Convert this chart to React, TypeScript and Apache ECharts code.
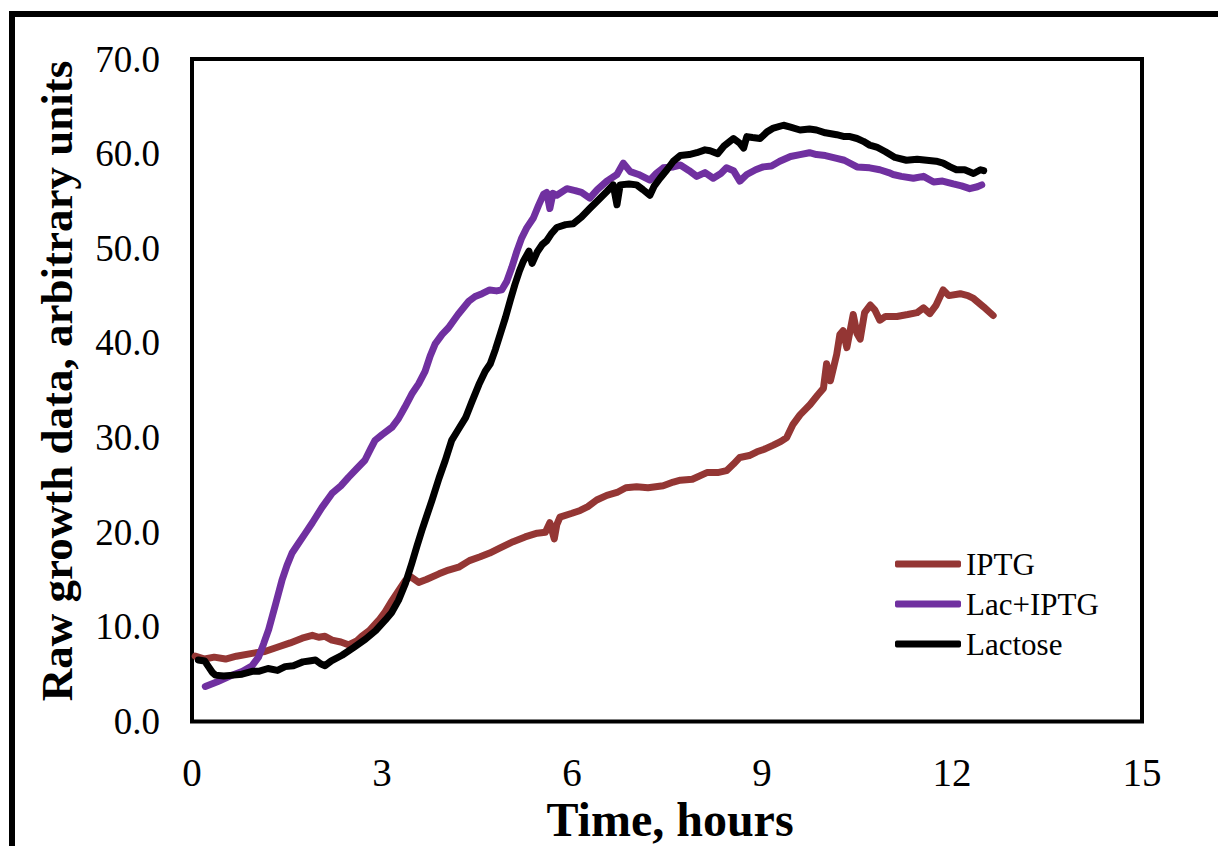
import React, { useEffect, useRef } from "react";
import * as echarts from "echarts";

const seriesNames = ["IPTG", "Lac+IPTG", "Lactose"];
const xTicks = [0, 3, 6, 9, 12, 15];
const yTicks = [0, 10, 20, 30, 40, 50, 60, 70];

const iptg: [number, number][] = [
  [0.05, 6.9], [0.2, 6.6], [0.35, 6.8], [0.53, 6.6], [0.7, 6.9], [0.95, 7.2], [1.15, 7.4],
  [1.37, 7.9], [1.55, 8.3], [1.74, 8.8], [1.9, 9.1], [2.0, 8.9], [2.1, 9.0], [2.21, 8.6],
  [2.35, 8.4], [2.47, 8.1], [2.6, 8.5], [2.68, 9.0], [2.8, 9.6], [2.95, 10.7], [3.05, 11.6],
  [3.16, 12.8], [3.27, 13.9], [3.37, 14.9], [3.45, 15.3], [3.58, 14.7], [3.7, 15.0], [3.9, 15.6],
  [4.05, 16.0], [4.21, 16.3], [4.38, 17.0], [4.55, 17.4], [4.7, 17.8], [4.85, 18.3], [5.07, 19.0],
  [5.26, 19.5], [5.45, 19.9], [5.58, 20.0], [5.65, 21.0], [5.72, 19.3], [5.76, 20.8], [5.81, 21.6],
  [6.0, 22.0], [6.13, 22.3], [6.25, 22.7], [6.39, 23.4], [6.55, 23.9], [6.71, 24.2], [6.85, 24.7],
  [7.02, 24.8], [7.2, 24.7], [7.44, 24.9], [7.6, 25.3], [7.71, 25.5], [7.9, 25.6], [8.13, 26.3],
  [8.3, 26.3], [8.44, 26.5], [8.55, 27.2], [8.65, 27.9], [8.8, 28.1], [8.92, 28.5], [9.05, 28.8],
  [9.18, 29.2], [9.3, 29.6], [9.39, 30.0], [9.49, 31.4], [9.6, 32.4], [9.76, 33.5], [9.88, 34.5],
  [9.97, 35.2], [10.02, 37.8], [10.08, 36.0], [10.18, 38.8], [10.23, 40.9], [10.28, 41.3],
  [10.34, 39.5], [10.44, 43.0], [10.5, 41.0], [10.55, 40.4], [10.62, 43.2], [10.71, 44.0],
  [10.78, 43.5], [10.86, 42.4], [10.95, 42.8], [11.13, 42.8], [11.3, 43.0], [11.45, 43.2],
  [11.55, 43.7], [11.65, 43.1], [11.75, 44.0], [11.86, 45.6], [11.95, 45.0], [12.13, 45.2],
  [12.25, 45.0], [12.34, 44.7], [12.5, 43.8], [12.65, 42.9],
];

const lacIptg: [number, number][] = [
  [0.21, 3.7], [0.4, 4.2], [0.6, 4.8], [0.8, 5.3], [0.95, 5.9], [1.05, 6.8], [1.13, 8.2],
  [1.21, 9.7], [1.32, 12.4], [1.42, 14.9], [1.5, 16.5], [1.58, 17.8], [1.68, 18.8], [1.78, 19.8],
  [1.9, 21.0], [2.05, 22.6], [2.21, 24.1], [2.35, 24.9], [2.47, 25.8], [2.6, 26.7], [2.73, 27.6],
  [2.82, 28.8], [2.89, 29.7], [3.0, 30.3], [3.16, 31.1], [3.26, 32.0], [3.36, 33.2], [3.47, 34.6],
  [3.58, 35.7], [3.68, 37.0], [3.76, 38.6], [3.84, 39.9], [3.95, 40.9], [4.05, 41.6], [4.2, 43.0],
  [4.37, 44.4], [4.47, 44.9], [4.58, 45.2], [4.7, 45.6], [4.81, 45.5], [4.89, 45.6], [4.97, 46.5],
  [5.05, 48.0], [5.13, 49.7], [5.2, 51.0], [5.28, 52.1], [5.39, 53.2], [5.47, 54.5], [5.55, 55.7],
  [5.6, 55.9], [5.65, 54.2], [5.7, 55.8], [5.76, 55.6], [5.92, 56.3], [6.05, 56.1], [6.15, 55.9],
  [6.28, 55.3], [6.4, 56.2], [6.55, 57.1], [6.71, 57.8], [6.81, 59.0], [6.92, 58.1], [7.05, 57.8],
  [7.23, 57.2], [7.33, 57.9], [7.44, 58.5], [7.6, 58.6], [7.71, 58.8], [7.85, 58.2], [7.97, 57.6],
  [8.1, 58.0], [8.23, 57.4], [8.35, 57.9], [8.44, 58.5], [8.55, 58.2], [8.65, 57.1], [8.76, 57.8],
  [8.9, 58.3], [9.02, 58.6], [9.15, 58.7], [9.28, 59.2], [9.45, 59.7], [9.6, 59.9], [9.75, 60.1],
  [9.86, 59.9], [10.0, 59.8], [10.18, 59.5], [10.3, 59.3], [10.5, 58.6], [10.7, 58.5],
  [10.86, 58.3], [11.0, 58.0], [11.07, 57.8], [11.2, 57.6], [11.39, 57.4], [11.55, 57.6],
  [11.71, 57.0], [11.85, 57.1], [12.02, 56.8], [12.15, 56.6], [12.28, 56.3], [12.4, 56.5],
  [12.47, 56.7],
];

const lactose: [number, number][] = [
  [0.1, 6.5], [0.2, 6.4], [0.26, 5.8], [0.32, 5.2], [0.37, 4.9], [0.5, 4.8], [0.65, 4.9],
  [0.79, 5.0], [0.95, 5.3], [1.05, 5.3], [1.2, 5.6], [1.35, 5.4], [1.47, 5.8], [1.6, 5.9],
  [1.75, 6.3], [1.85, 6.4], [1.95, 6.5], [2.03, 6.1], [2.1, 5.9], [2.2, 6.4], [2.37, 7.0],
  [2.55, 7.8], [2.74, 8.7], [2.9, 9.6], [3.05, 10.7], [3.15, 11.5], [3.26, 12.8], [3.37, 14.6],
  [3.47, 16.7], [3.55, 18.5], [3.63, 20.2], [3.71, 21.8], [3.79, 23.4], [3.9, 25.7], [4.0, 27.6],
  [4.1, 29.7], [4.2, 30.8], [4.32, 32.1], [4.42, 33.8], [4.53, 35.6], [4.63, 37.0], [4.71, 37.8],
  [4.79, 39.3], [4.87, 41.0], [4.95, 42.7], [5.03, 44.6], [5.1, 46.2], [5.17, 47.6], [5.23, 48.6],
  [5.32, 49.7], [5.37, 48.4], [5.45, 49.6], [5.53, 50.4], [5.6, 50.8], [5.67, 51.5], [5.76, 52.2],
  [5.9, 52.5], [6.02, 52.6], [6.15, 53.3], [6.28, 54.2], [6.4, 55.0], [6.55, 56.0], [6.65, 56.7],
  [6.71, 54.6], [6.76, 56.7], [6.9, 56.8], [7.02, 56.7], [7.12, 56.2], [7.23, 55.6], [7.3, 56.6],
  [7.39, 57.4], [7.5, 58.3], [7.6, 59.2], [7.71, 59.8], [7.85, 59.9], [7.97, 60.1], [8.1, 60.4],
  [8.18, 60.3], [8.3, 60.0], [8.4, 60.8], [8.55, 61.6], [8.65, 61.1], [8.71, 60.6], [8.76, 61.8],
  [8.85, 61.7], [8.97, 61.6], [9.08, 62.3], [9.18, 62.7], [9.34, 63.0], [9.45, 62.8], [9.6, 62.5],
  [9.75, 62.6], [9.86, 62.5], [10.0, 62.2], [10.18, 62.0], [10.3, 61.8], [10.39, 61.8],
  [10.5, 61.6], [10.6, 61.3], [10.7, 60.9], [10.81, 60.7], [10.95, 60.2], [11.1, 59.6],
  [11.28, 59.3], [11.45, 59.4], [11.6, 59.3], [11.75, 59.2], [11.86, 59.0], [11.97, 58.6],
  [12.07, 58.3], [12.2, 58.3], [12.34, 57.9], [12.45, 58.3], [12.5, 58.2],
];

const seriesData = [iptg, lacIptg, lactose];
const seriesColors = ["#943634", "#7030A0", "#000000"];

const FONT = "'Liberation Serif', 'Times New Roman', serif";

export default function App() {
  const ref = useRef<HTMLDivElement>(null);
  useEffect(() => {
    if (!ref.current) return;
    const chart = echarts.init(ref.current, undefined, { renderer: "svg" });
    chart.setOption({
      animation: false,
      backgroundColor: "#ffffff",
      grid: {
        left: 192,
        right: 76,
        top: 59,
        bottom: 124.5,
        show: true,
        borderColor: "#000",
        borderWidth: 4,
        backgroundColor: "transparent",
      },
      xAxis: {
        type: "value",
        min: xTicks[0],
        max: xTicks[xTicks.length - 1],
        interval: 3,
        axisLine: { show: false },
        axisTick: { show: false },
        splitLine: { show: false },
        axisLabel: {
          fontFamily: FONT,
          fontSize: 39,
          color: "#000",
          margin: 31,
        },
      },
      yAxis: {
        type: "value",
        min: yTicks[0],
        max: yTicks[yTicks.length - 1],
        interval: 10,
        axisLine: { show: false },
        axisTick: { show: false },
        splitLine: { show: false },
        axisLabel: {
          fontFamily: FONT,
          fontSize: 37,
          color: "#000",
          margin: 32,
          formatter: (v: number) => v.toFixed(1),
        },
      },
      legend: {
        data: seriesNames,
        orient: "vertical",
        left: 890,
        top: 543,
        itemWidth: 66,
        itemHeight: 7,
        itemGap: 8,
        icon: "roundRect",
        textStyle: {
          fontFamily: FONT,
          fontSize: 31,
          color: "#000",
          lineHeight: 32,
        },
      },
      graphic: [
        {
          type: "rect",
          shape: { x: 12, y: 14, width: 1400, height: 1000 },
          style: { fill: "none", stroke: "#000", lineWidth: 6 },
          z: -1,
        },
        {
          type: "text",
          x: 57,
          y: 381,
          rotation: Math.PI / 2,
          style: {
            text: "Raw growth data, arbitrary units",
            fontFamily: FONT,
            fontWeight: "bold",
            fontSize: 45,
            fill: "#000",
            align: "center",
            verticalAlign: "middle",
          },
        },
        {
          type: "text",
          x: 670,
          y: 819,
          style: {
            text: "Time, hours",
            fontFamily: FONT,
            fontWeight: "bold",
            fontSize: 48,
            fill: "#000",
            align: "center",
            verticalAlign: "middle",
          },
        },
      ],
      series: seriesNames.map((name, i) => ({
        name,
        type: "line",
        data: seriesData[i],
        showSymbol: false,
        symbol: "none",
        color: seriesColors[i],
        lineStyle: {
          color: seriesColors[i],
          width: 7,
          cap: "round",
          join: "round",
        },
        z: 2 + i,
      })),
    });
    return () => chart.dispose();
  }, []);
  return (
    <div
      ref={ref}
      style={{ position: "absolute", left: 0, top: 0, width: 1218, height: 846 }}
    />
  );
}
